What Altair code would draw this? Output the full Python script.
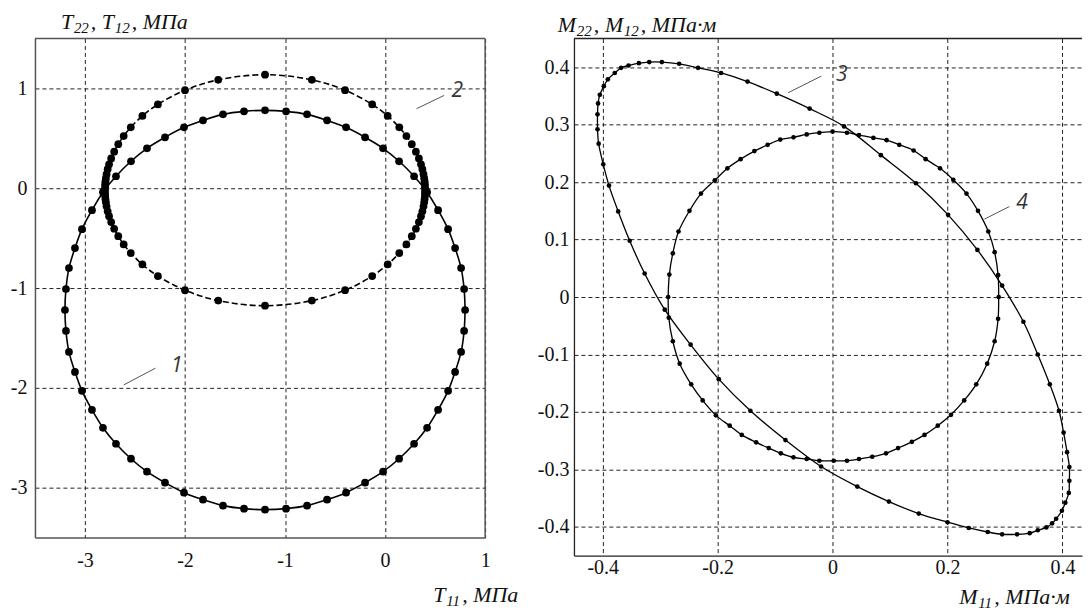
import altair as alt
import pandas as pd

# ---------------- data ----------------
# curve 1 (T11, T22): solid circle
c1_x = [0.80, 0.79, 0.76, 0.70, 0.63, 0.53, 0.42, 0.29, 0.14, -0.02, -0.20, -0.39, -0.58, -0.78, -0.99,
        -1.20, -1.41, -1.62, -1.82, -2.01, -2.20, -2.38, -2.54, -2.69, -2.82, -2.93, -3.03, -3.10, -3.16, -3.19,
        -3.20, -3.19, -3.16, -3.10, -3.03, -2.93, -2.82, -2.69, -2.54, -2.38, -2.20, -2.01, -1.82, -1.62, -1.41,
        -1.20, -0.99, -0.78, -0.58, -0.39, -0.20, -0.02, 0.14, 0.29, 0.42, 0.53, 0.63, 0.70, 0.76, 0.79]
c1_y = [-1.22, -1.01, -0.80, -0.60, -0.41, -0.22, -0.04, 0.12, 0.27, 0.40, 0.51, 0.61, 0.68, 0.74, 0.77,
        0.78, 0.77, 0.74, 0.68, 0.61, 0.51, 0.40, 0.27, 0.12, -0.04, -0.22, -0.41, -0.60, -0.80, -1.01,
        -1.22, -1.43, -1.64, -1.84, -2.03, -2.22, -2.40, -2.56, -2.71, -2.84, -2.95, -3.05, -3.12, -3.18, -3.21,
        -3.22, -3.21, -3.18, -3.12, -3.05, -2.95, -2.84, -2.71, -2.56, -2.40, -2.22, -2.03, -1.84, -1.64, -1.43]

# curve 2 (T11, T12): dashed ellipse
c2_x = [0.400, 0.399, 0.398, 0.395, 0.391, 0.384, 0.373, 0.359, 0.338, 0.308, 0.267, 0.213, 0.142, 0.026, -0.129, -0.400, -0.732,
        -1.200, -1.668, -2.000, -2.271, -2.426, -2.542, -2.613, -2.667, -2.708, -2.738, -2.759, -2.773, -2.784, -2.791, -2.795, -2.798, -2.799,
        -2.800, -2.799, -2.798, -2.795, -2.791, -2.784, -2.773, -2.759, -2.738, -2.708, -2.667, -2.613, -2.542, -2.426, -2.271, -2.000, -1.668,
        -1.200, -0.732, -0.400, -0.129, 0.026, 0.142, 0.213, 0.267, 0.308, 0.338, 0.359, 0.373, 0.384, 0.391, 0.395, 0.398, 0.399]
c2_y = [-0.020, 0.010, 0.041, 0.071, 0.101, 0.141, 0.191, 0.240, 0.299, 0.366, 0.441, 0.523, 0.610, 0.724, 0.840, 0.982, 1.086,
        1.137, 1.086, 0.982, 0.840, 0.724, 0.610, 0.523, 0.441, 0.366, 0.299, 0.240, 0.191, 0.141, 0.101, 0.071, 0.041, 0.010,
        -0.020, -0.050, -0.081, -0.111, -0.141, -0.181, -0.231, -0.280, -0.339, -0.406, -0.481, -0.563, -0.650, -0.764, -0.880, -1.022, -1.126,
        -1.177, -1.126, -1.022, -0.880, -0.764, -0.650, -0.563, -0.481, -0.406, -0.339, -0.280, -0.231, -0.181, -0.141, -0.111, -0.081, -0.050]

# curve 3 (M11, M22): tilted ellipse
c3_x = [-0.409, -0.409, -0.408, -0.405, -0.398, -0.391, -0.379, -0.368, -0.355, -0.337, -0.319, -0.297, -0.267, -0.234, -0.194,
        -0.148, -0.097, -0.040, 0.020, 0.084, 0.145, 0.201, 0.252, 0.295, 0.332, 0.357, 0.378, 0.394, 0.402, 0.408,
        0.412, 0.412, 0.411, 0.405, 0.399, 0.389, 0.382, 0.372, 0.357, 0.343, 0.321, 0.295, 0.270, 0.237, 0.200,
        0.150, 0.098, 0.043, -0.020, -0.082, -0.143, -0.198, -0.247, -0.292, -0.327, -0.353, -0.373, -0.389, -0.399, -0.407]
c3_y = [0.292, 0.318, 0.337, 0.352, 0.367, 0.379, 0.390, 0.399, 0.403, 0.407, 0.409, 0.409, 0.406, 0.399, 0.390,
        0.375, 0.354, 0.328, 0.297, 0.247, 0.198, 0.143, 0.082, 0.020, -0.043, -0.100, -0.152, -0.198, -0.236, -0.270,
        -0.296, -0.320, -0.341, -0.358, -0.372, -0.386, -0.394, -0.401, -0.406, -0.411, -0.413, -0.413, -0.409, -0.402, -0.392,
        -0.377, -0.356, -0.330, -0.295, -0.249, -0.198, -0.143, -0.083, -0.022, 0.041, 0.098, 0.149, 0.194, 0.231, 0.267]

# curve 4 (M11, M12): near-circle
c4_x = [0.289, 0.288, 0.282, 0.271, 0.253, 0.233, 0.210, 0.187, 0.162, 0.141, 0.116, 0.094, 0.071, 0.046, 0.025,
        0.000, -0.023, -0.045, -0.068, -0.091, -0.113, -0.136, -0.160, -0.183, -0.205, -0.229, -0.249, -0.268, -0.278, -0.284,
        -0.286, -0.285, -0.278, -0.266, -0.246, -0.226, -0.203, -0.179, -0.158, -0.133, -0.111, -0.090, -0.068, -0.045, -0.023,
        0.002, 0.025, 0.046, 0.069, 0.093, 0.114, 0.138, 0.160, 0.183, 0.206, 0.229, 0.250, 0.269, 0.282, 0.288]
c4_y = [0.000, 0.038, 0.078, 0.114, 0.150, 0.180, 0.204, 0.224, 0.240, 0.255, 0.265, 0.273, 0.277, 0.282, 0.286,
        0.288, 0.286, 0.283, 0.278, 0.274, 0.265, 0.254, 0.240, 0.224, 0.203, 0.180, 0.150, 0.114, 0.076, 0.039,
        0.000, -0.036, -0.077, -0.116, -0.152, -0.180, -0.206, -0.224, -0.240, -0.253, -0.263, -0.272, -0.279, -0.282, -0.285,
        -0.285, -0.285, -0.282, -0.278, -0.272, -0.263, -0.252, -0.240, -0.224, -0.205, -0.180, -0.152, -0.116, -0.077, -0.038]

left_x_ticks = [-3, -2, -1, 0, 1]
left_y_ticks = [-3, -2, -1, 0, 1]
right_x_ticks = [-0.4, -0.2, 0, 0.2, 0.4]
right_y_ticks = [-0.4, -0.3, -0.2, -0.1, 0, 0.1, 0.2, 0.3, 0.4]

# axis titles, split into main text and subscripts: T22, T12, МПа / T11, МПа / M22, M12, МПа·м / M11, МПа·м
left_y_title = ["T", "22", ",", "T", "12", ",", "МПа"]
left_x_title = ["T", "11", ",", "МПа"]
right_y_title = ["M", "22", ",", "M", "12", ",", "МПа·м"]
right_x_title = ["M", "11", ",", "МПа·м"]
curve_labels = ["1", "2", "3", "4"]

# ---------------- styling ----------------
SERIF = "Liberation Serif"
SANS = "Open Sans"
W1, H1 = 451, 500
W2, H2 = 509, 518
one = pd.DataFrame({"k": [0]})


def frame(xs, ys, close=False):
    if close:
        xs = xs + xs[:1]
        ys = ys + ys[:1]
    return pd.DataFrame({"x": xs, "y": ys, "i": list(range(len(xs)))})


L_EXPR = "replace(format(datum.value, 'd'), '\u2212', '-')"
R_EXPR = "datum.value == 0 ? '0' : replace(format(datum.value, '.1f'), '\u2212', '-')"


def axis(values, pad, expr, dcolor, dwidth):
    return alt.Axis(values=values, title=None, ticks=False, domain=True, domainColor=dcolor,
                    domainWidth=dwidth, labelPadding=pad, labelExpr=expr, labelFont=SERIF,
                    labelFontSize=20, labelColor="#111", labelFlush=False, labelOverlap=False,
                    grid=True)


lx = alt.X("x:Q", scale=alt.Scale(domain=[-3.5, 1.0], nice=False, zero=False),
           axis=axis(left_x_ticks, 13, L_EXPR, "#555", 1.5))
ly = alt.Y("y:Q", scale=alt.Scale(domain=[-3.5, 1.5], nice=False, zero=False),
           axis=axis(left_y_ticks, 8, L_EXPR, "#555", 1.5))
rx = alt.X("x:Q", scale=alt.Scale(domain=[-0.45, 0.434], nice=False, zero=False),
           axis=axis(right_x_ticks, 2, R_EXPR, "#222", 1.3))
ry = alt.Y("y:Q", scale=alt.Scale(domain=[-0.45, 0.45], nice=False, zero=False),
           axis=axis(right_y_ticks, 5, R_EXPR, "#222", 1.3))


def curve(xs, ys, X, Y, width, size, dash=None):
    kw = dict(color="black", strokeWidth=width, interpolate="catmull-rom")
    if dash:
        kw["strokeDash"] = dash
    line = alt.Chart(frame(xs, ys, close=True)).mark_line(**kw).encode(x=X, y=Y, order="i:Q")
    pts = alt.Chart(frame(xs, ys)).mark_point(filled=True, shape="circle", size=size, color="black",
                                              opacity=1, strokeWidth=0).encode(x=X, y=Y)
    return [line, pts]


def text(s, x, y, align="left", font=SERIF, style="italic", size=22, color="#111", baseline="alphabetic"):
    return alt.Chart(one).mark_text(text=s, align=align, baseline=baseline, font=font, fontStyle=style,
                                    fontSize=size, color=color).encode(x=alt.value(x), y=alt.value(y))


def title(parts, xs, base, subs):
    out = []
    for k, (p, x) in enumerate(zip(parts, xs)):
        is_sub = k in subs
        out.append(text(p, x, base + (4 if is_sub else 0), size=15 if is_sub else 22))
    return out


def seg(x0, y0, x1, y1, color="#555", width=1):
    return alt.Chart(one).mark_rule(color=color, strokeWidth=width).encode(
        x=alt.value(x0), y=alt.value(y0), x2=alt.value(x1), y2=alt.value(y1))


left = alt.layer(
    *curve(c1_x, c1_y, lx, ly, 1.6, 60),
    *curve(c2_x, c2_y, lx, ly, 1.6, 60, dash=[6, 3]),
    seg(0, 0, W1, 0, "#555", 1.5),
    seg(W1, 0, W1, H1, "#555", 1.5),
    seg(89, 347, 120.7, 330.3),
    text(curve_labels[0], 142, 328.5, align="center", font=SANS, style="italic", size=21, color="#333", baseline="middle"),
    seg(382.3, 70.3, 410, 57),
    text(curve_labels[1], 423, 53, align="center", font=SANS, style="italic", size=21, color="#333", baseline="middle"),
    *title(left_y_title, [26, 39, 56, 67, 80, 97, 108], -10, {1, 4}),
    *title(left_x_title, [399, 412, 428, 439], 565, {1}),
).properties(width=W1, height=H1)

right = alt.layer(
    *curve(c3_x, c3_y, rx, ry, 1.3, 22),
    *curve(c4_x, c4_y, rx, ry, 1.3, 22),
    seg(0, 0, W2, 0, "#222", 1.3),
    seg(214.5, 54.4, 247.8, 37.7),
    text(curve_labels[2], 268.3, 36.9, align="center", font=SANS, style="italic", size=21, color="#333", baseline="middle"),
    seg(411.2, 181, 436.2, 168.4),
    text(curve_labels[3], 449, 165.2, align="center", font=SANS, style="italic", size=21, color="#333", baseline="middle"),
    *title(right_y_title, [-16.2, 2.8, 19.8, 31, 50, 67, 78], -7, {1, 4}),
    *title(right_x_title, [386, 405, 421, 432], 567, {1}),
).properties(width=W2, height=H2)

chart = alt.hconcat(left, right, spacing=89, bounds="flush").properties(
    padding={"left": 1, "top": 1, "right": 0, "bottom": 0},
    background="white",
).configure_view(stroke="transparent").configure_axis(
    gridColor="#222", gridDash=[4, 3], gridWidth=1, gridOpacity=1
)

chart.save("out.html", embed_options={"renderer": "svg", "actions": False})
